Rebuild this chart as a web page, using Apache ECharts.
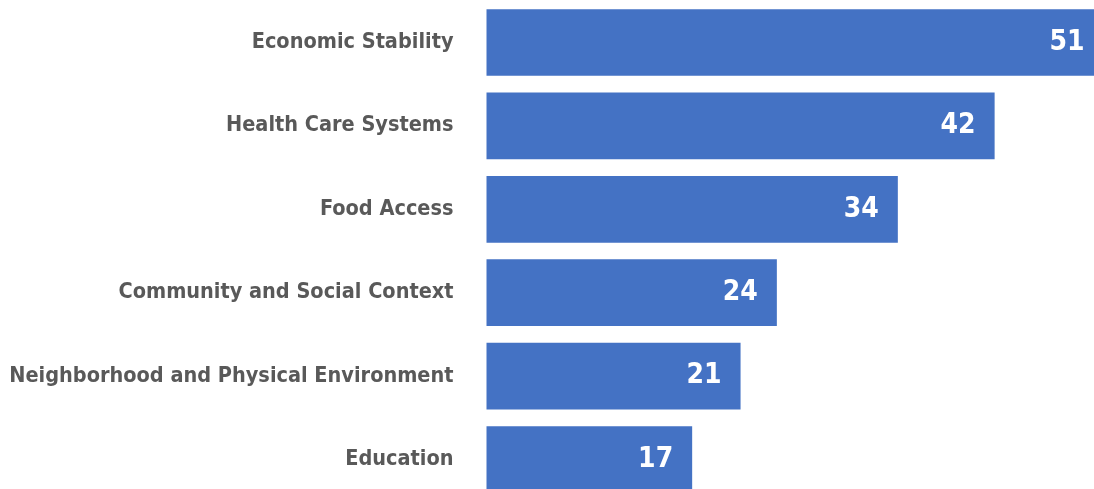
<!DOCTYPE html>
<html>
<head>
<meta charset="utf-8">
<script src="https://cdn.jsdelivr.net/npm/echarts@6/dist/echarts.min.js"></script>
<style>
  html, body { margin: 0; padding: 0; background: #ffffff; }
  #chart { width: 1094px; height: 489px; }
</style>
</head>
<body>
<div id="chart"></div>
<script>
// Categories listed bottom-to-top (ECharts category axis grows upward)
const categories = [
  'Education',
  'Neighborhood and Physical Environment',
  'Community and Social Context',
  'Food Access',
  'Health Care Systems',
  'Economic Stability'
];
const values = [17, 21, 24, 34, 42, 51];

const FONT = '"DejaVu Sans Condensed", "Liberation Sans Narrow", sans-serif';

const chart = echarts.init(document.getElementById('chart'), null, { renderer: 'canvas' });
chart.setOption({
  animation: false,
  backgroundColor: '#ffffff',
  grid: {
    left: 486.5, top: 0.8, height: 500.4, right: -9.5,
    containLabel: false,
    outerBoundsMode: 'none'
  },
  xAxis: {
    type: 'value',
    min: 0,
    max: 51,
    show: false
  },
  yAxis: {
    type: 'category',
    data: categories,
    axisLine: { show: false },
    axisTick: { show: false },
    splitLine: { show: false },
    axisLabel: {
      margin: 33,
      color: '#595959',
      fontFamily: FONT,
      fontWeight: 'bold',
      fontSize: 21.5
    }
  },
  series: [{
    type: 'bar',
    data: values,
    barCategoryGap: '20%',
    itemStyle: { color: '#4472C4' },
    label: {
      show: true,
      position: 'insideRight',
      distance: 19,
      color: '#ffffff',
      fontFamily: FONT,
      fontWeight: 'bold',
      fontSize: 28
    }
  }]
});
</script>
</body>
</html>
